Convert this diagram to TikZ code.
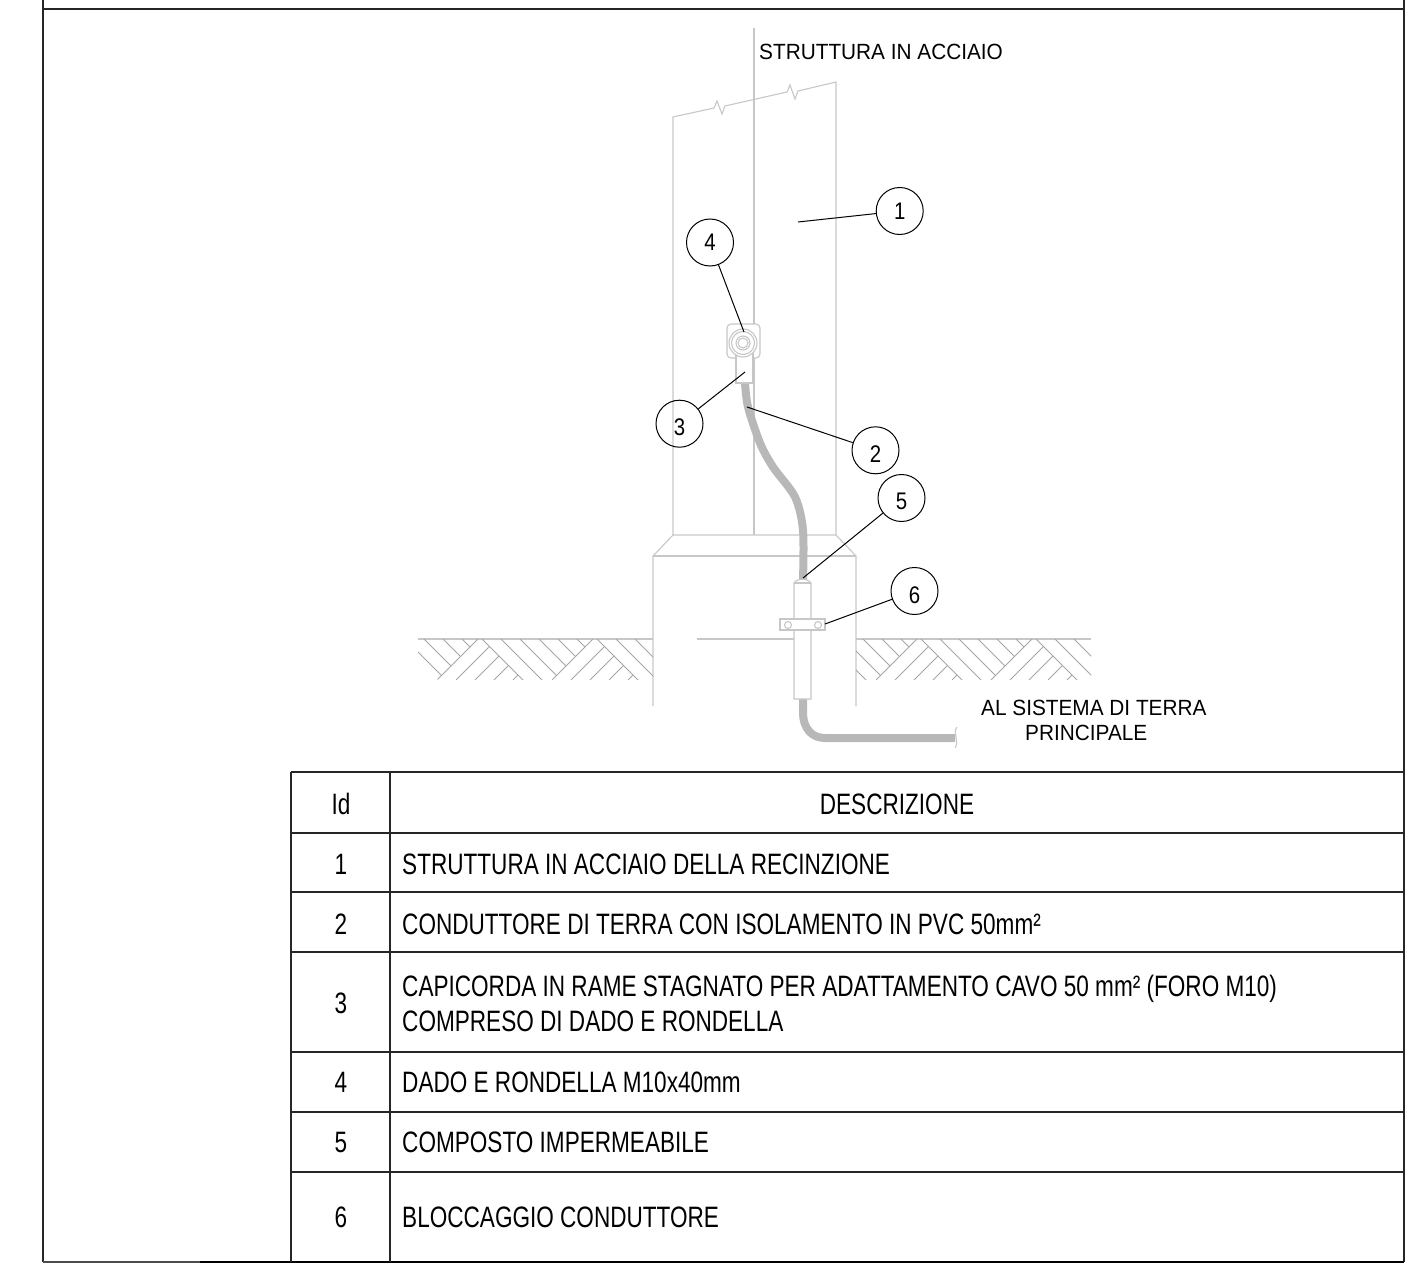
\documentclass[tikz,border=0pt]{standalone}
\usepackage{fontspec}
\setmainfont{Liberation Sans}
\newfontfamily\narrowfont[FakeStretch=0.765]{Liberation Sans}
\newfontfamily\notefont[FakeStretch=0.945]{Liberation Sans}
\newfontfamily\digitfont[FakeStretch=0.85]{Liberation Sans}
\begin{document}
\begin{tikzpicture}[x=1pt, y=-1pt,
  frameline/.style={line width=1.1pt, black!85},
  steel/.style={line width=1.1pt, black!22},
  soil/.style={line width=0.8pt, black!35},
  cable/.style={line width=8pt, black!28},
  leader/.style={line width=1pt, black},
  balloon/.style={circle, draw, line width=1pt, minimum size=47pt, inner sep=0pt, font=\digitfont\fontsize{24}{24}\selectfont},
  note/.style={font=\notefont\fontsize{22}{25}\selectfont},
  cell/.style={font=\narrowfont\fontsize{29.5}{35}\selectfont, inner sep=0pt}]

\useasboundingbox (0,0) rectangle (1412,1273);

% Column and plinth
\draw [steel] (673,535) -- (673,117) -- (714,108) -- (717,101) -- (722,114) -- (725,106)
  -- (787,92) -- (790,85) -- (795,99) -- (798,91) -- (836,82) -- (836,535) -- cycle;
\draw [steel] (754,28) -- (754,535);
\draw [steel] (653,706) -- (653,556) -- (673,535);
\draw [steel] (856,706) -- (856,556) -- (836,535);
\draw [steel] (653,556) -- (856,556);

% Ground line
\draw [steel] (418,639) -- (653,639);
\draw [steel] (697,639) -- (794,639);
\draw [steel] (856,639) -- (1091,639);

% Hatching
\begin{scope}
  \clip (418,639) -- (653,639) -- (653,680) -- (438,680) -- (418,660) -- cycle
    (856,639) rectangle (1091,680);
  \foreach \m in {367,482,597,806,921,1036} {
    \foreach \k in {0,...,5} {
      \pgfmathsetmacro\t{min(41,(111-19*\k)/2)}
      \draw [soil] (\m+19*\k,639) -- ++(\t,\t);
    }
    \foreach \k in {0,...,4} {
      \pgfmathsetmacro\t{min(41,(86-19*\k)/2)}
      \draw [soil] (\m-45+19*\k,680) -- ++(\t,-\t);
    }
  }
\end{scope}

% Cable
\draw [cable] plot [smooth, tension=0.5] coordinates {(745,383) (748,407) (760,443) (773,467) (795,497) (803,530) (803,580)};
\draw [cable] (803,699) -- (803,712) .. controls (803,730) and (813,738) .. (825,738) -- (955,738);
\draw [steel] (957,727) .. controls (952,733) and (960,741) .. (955,748);

% Cable lug with nut
\draw [steel, fill=white, rounded corners=4pt] (727,324) rectangle (760,358);
\draw [steel, fill=white] (736,352) -- (736,383) -- (753,383) -- (753,352);
\draw [steel, fill=white] (743,343) circle (14);
\draw [steel] (743,343) circle (11.5);
\draw [steel] (743,343) circle (7);
\draw [steel] (743,343) circle (5);

% Sleeve and clamp
\draw [steel, fill=white] (794,699) -- (794,583) .. controls (797,578) and (808,578) .. (811,583)
  -- (811,699) -- cycle;
\draw [steel] (794,583) -- (811,583);
\draw [steel, fill=white] (780,619) rectangle (825,630);
\foreach \x in {788,818}
  \draw [steel] (\x,625) circle (3.5);

% Balloons
\foreach \l/\x/\y/\h in {1/899.7/211/17, 2/875.5/450.3/24.4, 3/679.5/423.7/23, 4/710/242.5/17, 5/901.5/498/22, 6/914.5/591/25}
  \node [balloon, text height=\h pt, text depth=0pt] (balloon-\l) at (\x,\y) {\l};

% Leader ends
\coordinate (end-1) at (798,222);
\coordinate (end-2) at (747,407);
\coordinate (end-3) at (745,372);
\coordinate (end-4) at (744,332);
\coordinate (end-5) at (803,578);
\coordinate (end-6) at (825,624);

\foreach \l in {1,...,6}
  \draw [leader] (balloon-\l) -- (end-\l);

% Notes
\node [note, anchor=base west, inner sep=0pt] (note-steel) at (759,60) {STRUTTURA IN ACCIAIO};
\node [note, anchor=north west, align=left, inner sep=0pt] (note-earth) at (981,700)
  {AL SISTEMA DI TERRA\\\hspace*{44pt}PRINCIPALE};

% Frame
\draw [frameline] (43,0) -- (43,1262);
\draw [frameline] (1404,0) -- (1404,1262);
\draw [frameline] (43,9) -- (1404,9);
\draw [line width=1.1pt, black!70] (43,1262) -- (200,1262);
\draw [line width=1.4pt, black] (200,1262) -- (1404,1262);

% Table
\foreach \y in {772,833,892,952,1052,1112,1172}
  \draw [frameline] (291,\y) -- (1404,\y);
\draw [frameline] (291,772) -- (291,1262);
\draw [frameline] (390,772) -- (390,1262);

\node [cell] (head-id) at (341,804) {Id};
\node [cell] (head-text) at (897,804) {DESCRIZIONE};

\foreach \l/\y in {1/864, 2/924, 3/1003, 4/1082, 5/1142, 6/1217}
  \node [cell] (id-\l) at (341,\y) {\l};

\foreach \l/\y/\t in {1/864/STRUTTURA IN ACCIAIO DELLA RECINZIONE,
    2/924/CONDUTTORE DI TERRA CON ISOLAMENTO IN PVC 50mm²,
    4/1082/DADO E RONDELLA M10x40mm,
    5/1142/COMPOSTO IMPERMEABILE,
    6/1217/BLOCCAGGIO CONDUTTORE}
  \node [cell, anchor=west] (text-\l) at (402,\y) {\t};
\node [cell, anchor=west, align=left] (text-3) at (402,1003)
  {CAPICORDA IN RAME STAGNATO PER ADATTAMENTO CAVO 50 mm² (FORO M10)\\COMPRESO DI DADO E RONDELLA};

\end{tikzpicture}
\end{document}
